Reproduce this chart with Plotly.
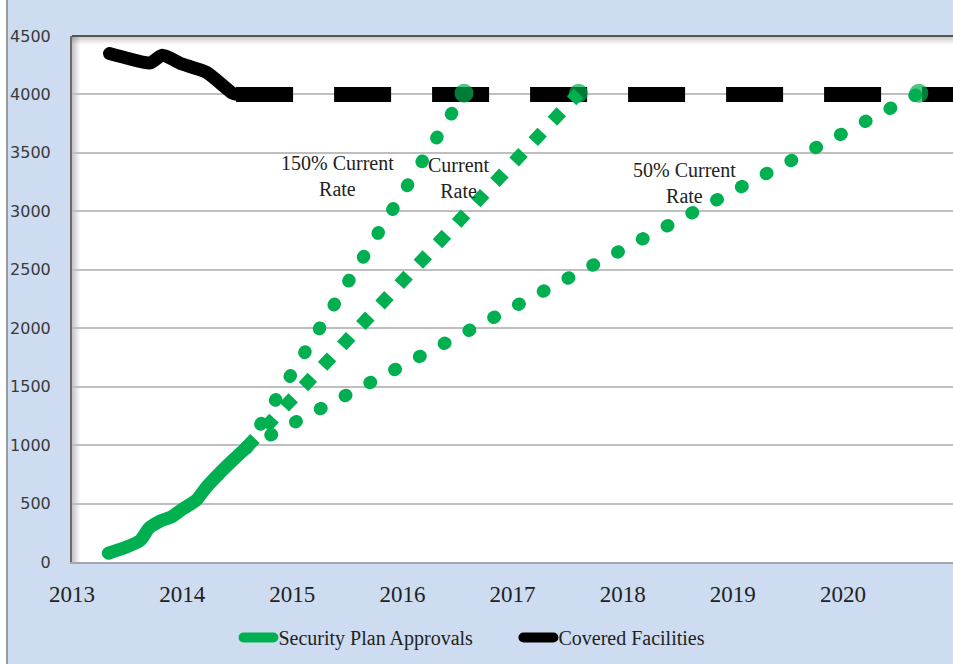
import plotly.graph_objects as go

# actual approvals (solid green)
approval_years = [2013.33, 2013.5, 2013.62, 2013.7, 2013.8, 2013.9, 2014.0, 2014.13, 2014.22, 2014.33, 2014.46, 2014.58]
approval_vals = [75, 130, 185, 290, 350, 385, 450, 530, 640, 750, 870, 975]

# covered facilities (black)
facility_years = [2013.34, 2013.5, 2013.71, 2013.82, 2014.0, 2014.22, 2014.46, 2014.5]
facility_vals = [4350, 4310, 4270, 4335, 4260, 4190, 4010, 4000]
facility_proj_years = [2014.49, 2021.0]
facility_proj_vals = [4000, 4000]

# projections: start point and the point where they reach the covered total
proj150_years = [2014.58, 2016.56]
proj150_vals = [975, 4010]
proj100_years = [2014.58, 2017.60]
proj100_vals = [975, 4010]
proj50_years = [2014.58, 2020.69]
proj50_vals = [975, 4010]

labels = ["150% Current<br>Rate", "Current<br>Rate", "50% Current<br>Rate"]
label_x = [2015.41, 2016.51, 2018.56]
label_y = [3300, 3283, 3240]

year_ticks = [2013, 2014, 2015, 2016, 2017, 2018, 2019, 2020]
val_ticks = [0, 500, 1000, 1500, 2000, 2500, 3000, 3500, 4000, 4500]

GREEN = "#00b050"
SERIF = "Liberation Serif"

fig = go.Figure()

fig.add_trace(go.Scatter(x=facility_years, y=facility_vals, mode="lines", name="Covered Facilities", uid="fac",
                         line=dict(color="black", width=13, shape="spline", smoothing=0.6), legendrank=2))
fig.add_trace(go.Scatter(x=facility_proj_years, y=facility_proj_vals, mode="lines", showlegend=False,
                         line=dict(color="black", width=15, dash="57px,41px")))
fig.add_trace(go.Scatter(x=approval_years, y=approval_vals, mode="lines", name="Security Plan Approvals", uid="appr",
                         line=dict(color=GREEN, width=13, shape="spline", smoothing=0.6), legendrank=1))
end_marker = dict(size=[0, 19], color=GREEN, line=dict(width=0))
fig.add_trace(go.Scatter(x=proj150_years, y=proj150_vals, mode="lines+markers", showlegend=False, uid="rd150",
                         line=dict(color=GREEN, width=13, dash="1px,27px"), marker=end_marker))
fig.add_trace(go.Scatter(x=proj100_years, y=proj100_vals, mode="lines+markers", showlegend=False,
                         line=dict(color=GREEN, width=13, dash="13px,15px"), marker=end_marker))
fig.add_trace(go.Scatter(x=proj50_years, y=proj50_vals, mode="lines+markers", showlegend=False, uid="rd50",
                         line=dict(color=GREEN, width=13, dash="1px,27px"), marker=end_marker))

for t, x, y in zip(labels, label_x, label_y):
    fig.add_annotation(x=x, y=y, text=t, showarrow=False,
                       font=dict(family=SERIF, size=20, color="#222222"))

# inner shadow of the plot frame (left and top edges)
px_x, px_y = 1 / 881, 1 / 526
shapes = []
for i in range(8):
    a = 0.22 * (1 - i / 8)
    shapes.append(dict(type="rect", xref="paper", yref="paper", layer="below",
                       x0=i * px_x, x1=(i + 1) * px_x, y0=0, y1=1,
                       fillcolor=f"rgba(0,0,0,{a:.3f})", line=dict(width=0)))
    shapes.append(dict(type="rect", xref="paper", yref="paper", layer="below",
                       x0=0, x1=1, y0=1 - (i + 1) * px_y, y1=1 - i * px_y,
                       fillcolor=f"rgba(0,0,0,{a:.3f})", line=dict(width=0)))
shapes += [
    dict(type="line", xref="paper", yref="paper", x0=0, x1=1, y0=1, y1=1,
         line=dict(color="#555555", width=2)),
    dict(type="rect", xref="paper", yref="paper", x0=-0.09, x1=-0.0738, y0=-0.2, y1=1.08,
         fillcolor="white", line=dict(width=0), layer="below"),
    dict(type="line", xref="paper", yref="paper", x0=-0.0738, x1=-0.0738, y0=-0.2, y1=1.08,
         line=dict(color="#9a9a9a", width=2)),
]

fig.update_layout(
    width=953, height=664,
    margin=dict(l=72, r=0, t=36, b=102),
    paper_bgcolor="#cddcf0",
    plot_bgcolor="white",
    showlegend=True,
    legend=dict(orientation="h", yref="container", y=0.04, yanchor="middle",
                xref="container", x=0.544, xanchor="center",
                entrywidth=235, entrywidthmode="pixels",
                font=dict(family=SERIF, size=20, color="#222222"),
                bgcolor="rgba(0,0,0,0)"),
    xaxis=dict(range=[2013, 2021], tickvals=year_ticks, ticktext=[str(v) for v in year_ticks],
               showgrid=False, zeroline=False, showline=True, linecolor="#a6a6a6", linewidth=2,
               ticks="", ticklabelstandoff=10,
               tickfont=dict(family=SERIF, size=23, color="#222222")),
    yaxis=dict(range=[0, 4500], tickvals=val_ticks, showgrid=True, gridcolor="#bfbfbf", gridwidth=2,
               zeroline=False, showline=True, linecolor="#6b6b6b", linewidth=2,
               ticks="", ticklabelstandoff=16,
               tickfont=dict(family="DejaVu Sans", size=16, color="#3a3a3a")),
    shapes=shapes,
)

post = """
document.body.style.margin = '0';
var gd = document.getElementById('{plot_id}');
gd.querySelectorAll('.tracerd150 .js-line, .tracerd50 .js-line').forEach(function(p){
    p.style.strokeLinecap = 'round';
});
gd.querySelectorAll('.tracefac .js-line, .traceappr .js-line').forEach(function(p){
    p.style.strokeLinecap = 'round';
    p.style.strokeLinejoin = 'round';
});
gd.querySelectorAll('.legend .traces .js-line').forEach(function(p){ p.style.strokeLinecap = 'round'; });
"""

fig.write_html("out.html", post_script=post, config={"displayModeBar": False})
